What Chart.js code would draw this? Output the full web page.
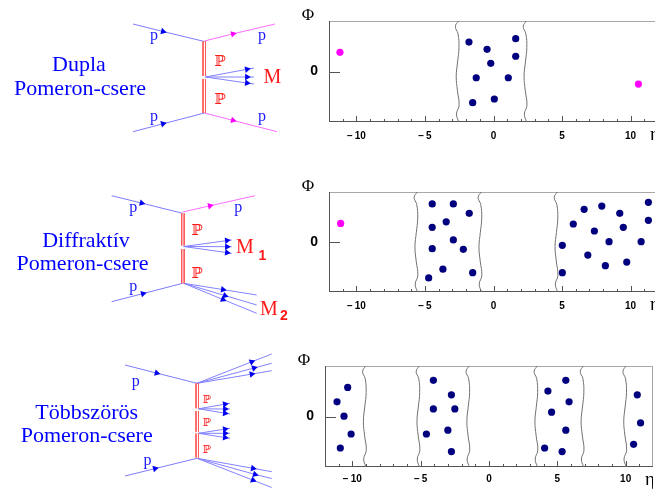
<!DOCTYPE html>
<html>
<head>
<meta charset="utf-8">
<script src="https://cdn.jsdelivr.net/npm/chart.js@4.4.1/dist/chart.umd.min.js"></script>
<style>
  html, body { margin: 0; padding: 0; background: #fff; }
  body { width: 655px; height: 492px; overflow: hidden; position: relative; }
  canvas { position: absolute; }
</style>
</head>
<body>
<canvas id="d1" width="300" height="160" style="left:0;top:0"></canvas>
<canvas id="d2" width="300" height="170" style="left:0;top:160px"></canvas>
<canvas id="d3" width="300" height="162" style="left:0;top:330px"></canvas>
<canvas id="p1" width="369" height="150" style="left:289px;top:0"></canvas>
<canvas id="p2" width="369" height="155" style="left:289px;top:165px"></canvas>
<canvas id="p3" width="368" height="162" style="left:285px;top:330px"></canvas>
<script>
// ---- eta-phi plots ----
var etaTicks = [-10, -5, 0, 5, 10];

// double pomeron exchange
var dpeCentral = [
  {x:-1.79, y:1.83}, {x:1.62, y:2.04}, {x:-0.47, y:1.38}, {x:1.62, y:0.95},
  {x:-0.20, y:0.51}, {x:-1.26, y:-0.39}, {x:1.08, y:-0.39}, {x:0.06, y:-1.71},
  {x:-1.52, y:-1.94}
];
var dpeProtons = [{x:-11.2, y:1.19}, {x:10.57, y:-0.78}];
var dpeGaps = [-2.65, 2.3];

// diffractive pomeron exchange
var ddLeft = [
  {x:-4.47, y:2.39}, {x:-2.93, y:2.39}, {x:-1.77, y:1.80}, {x:-4.47, y:0.92},
  {x:-3.45, y:1.27}, {x:-2.93, y:0.13}, {x:-4.47, y:-0.42}, {x:-2.20, y:-0.46},
  {x:-3.69, y:-1.71}, {x:-1.52, y:-1.93}, {x:-4.73, y:-2.26}
];
var ddRight = [
  {x:11.30, y:2.49}, {x:7.90, y:2.26}, {x:6.61, y:2.05}, {x:9.21, y:1.80},
  {x:5.82, y:1.13}, {x:11.30, y:1.36}, {x:9.47, y:0.92}, {x:7.36, y:0.69},
  {x:8.43, y:0.02}, {x:10.77, y:0.02}, {x:5.02, y:-0.21}, {x:6.88, y:-0.82},
  {x:9.72, y:-1.26}, {x:8.16, y:-1.49}, {x:5.02, y:-1.93}
];
var ddProtons = [{x:-11.15, y:1.17}];
var ddGaps = [-5.66, -0.99, 4.56];

// multiple pomeron exchange
var mpeParticles = [
  {x:-10.34, y:1.81}, {x:-11.12, y:0.91}, {x:-10.61, y:0.02}, {x:-10.09, y:-1.09}, {x:-10.88, y:-1.96},
  {x:-4.07, y:2.25}, {x:-2.75, y:1.35}, {x:-4.07, y:0.47}, {x:-2.50, y:0.47},
  {x:-3.01, y:-0.85}, {x:-4.58, y:-1.09}, {x:-2.75, y:-2.18},
  {x:5.62, y:2.25}, {x:4.31, y:1.58}, {x:5.86, y:0.91}, {x:4.58, y:0.27},
  {x:5.62, y:-0.85}, {x:4.07, y:-1.96}, {x:5.35, y:-2.18},
  {x:10.85, y:1.35}, {x:11.09, y:-0.40}, {x:10.58, y:-1.73}
];
var mpeGaps = [-9.12, -5.20, -1.55, 3.43, 6.81, 9.93];

// shape of the wavy gap borders (phi, eta shift)
var wavePhi   = [3.15, 2.8, 2.35, 1.5, 0.6, -0.3, -1.2, -2.1, -2.65, -3.15];
var waveShift = [0.10, -0.13, 0.06, 0.13, 0.03, -0.07, 0.02, 0.14, -0.05, 0.12];

// ---- Feynman diagrams: [x1,y1, arrowX,arrowY, x2,y2, kind] ----
var d1Lines = [
  [133,24, 163,31.5, 204.5,41.5, 'p'],
  [204.5,41, 233,33.9, 275,24, 'm'],
  [133,131.7, 163,123.8, 204.5,113, 'p'],
  [204.5,113, 233,120.4, 277,131.7, 'm'],
  [205.5,77, 247,69.3, 254,68, 'j'],
  [205.5,77, 247,77, 254,77, 'j'],
  [205.5,77, 247,83, 254,84, 'j']
];
var d1Pomeron = [[203,41.5,203,76], [205.5,41.5,205.5,76], [203,79,203,113], [205.5,79,205.5,113]];
var d1Text = [
  ['Dupla', 79, 70.7, 'title'], ['Pomeron-csere', 80, 95, 'title'],
  ['p', 154, 40, 'p'], ['p', 262, 40, 'p'], ['p', 154, 120.7, 'p'], ['p', 262, 120.7, 'p'],
  ['\u2119', 220, 65.7, 'P'], ['\u2119', 220, 104, 'P'],
  ['M', 272.5, 83.3, 'M']
];

var d2Lines = [
  [111.7,195.7, 141.7,203.1, 182.7,213.3, 'p'],
  [182.7,212, 210,205.8, 255,195.7, 'm'],
  [111.7,301.7, 143,293.6, 182.7,283.3, 'p'],
  [183.7,246.5, 227,240.6, 231.7,240, 'j'],
  [183.7,246.5, 227,246.7, 231.7,246.7, 'j'],
  [183.7,246.5, 227,252.6, 231.7,253.3, 'j'],
  [183.7,283.3, 223,289.6, 256.7,295, 'j'],
  [183.7,283.3, 225,295.6, 256.7,305, 'j'],
  [183.7,283.3, 223,299.5, 256.7,313.3, 'j']
];
var d2Pomeron = [[181.7,213.3,181.7,245.5], [184.2,213.3,184.2,245.5], [181.7,249,181.7,283.3], [184.2,249,184.2,283.3]];
var d2Text = [
  ['Diffrakt\u00edv', 86, 246.7, 'title'], ['Pomeron-csere', 82.5, 270, 'title'],
  ['p', 133.3, 212.3, 'p'], ['p', 238.3, 212.3, 'p'], ['p', 133.3, 291, 'p'],
  ['\u2119', 197, 235, 'P'], ['\u2119', 197, 278.3, 'P'],
  ['M', 245, 253.3, 'M'], ['1', 262.5, 260, 'sub'],
  ['M', 269, 315, 'M'], ['2', 284, 320, 'sub']
];

var d3Lines = [
  [125,365, 156.7,373.1, 197,383.3, 'p'],
  [125,476, 155,468.6, 197,458.3, 'p'],
  [197,383.3, 251.7,361.8, 271.7,354, 'j'],
  [197,383.3, 254,368.0, 271.7,363.3, 'j'],
  [197,383.3, 251.7,374.1, 271.7,370.7, 'j'],
  [198.5,408.8, 225,404.2, 230,403.3, 'j'],
  [198.5,408.8, 225,409, 230,409, 'j'],
  [198.5,408.8, 225,413.2, 230,414, 'j'],
  [198.5,433.3, 225,429.1, 230,428.3, 'j'],
  [198.5,433.3, 225,433.3, 230,433.3, 'j'],
  [198.5,433.3, 225,437.5, 230,438.3, 'j'],
  [197,458.3, 253,468.3, 271.7,471.7, 'j'],
  [197,458.3, 255,474.4, 271.7,478.5, 'j'],
  [197,458.3, 253,480.2, 271.7,487.5, 'j']
];
var d3Pomeron = [[196,383.3,196,408.3], [198.5,383.3,198.5,408.3], [196,411,196,431.7], [198.5,411,198.5,431.7],
                 [196,433.5,196,457.5], [198.5,433.5,198.5,457.5]];
var d3Text = [
  ['T\u00f6bbsz\u00f6r\u00f6s', 86.7, 419.3, 'title'], ['Pomeron-csere', 86.7, 441.7, 'title'],
  ['p', 135.8, 385.7, 'p'], ['p', 147.5, 465, 'p'],
  ['\u2119', 207, 402.7, 'Ps'], ['\u2119', 207, 426, 'Ps'], ['\u2119', 207, 452.7, 'Ps']
];

var textStyle = {
  title: ['22px "Liberation Serif"', '#0000ff'],
  p:     ['16px "Liberation Serif"', '#1a1aff'],
  P:     ['15px "DejaVu Serif"', '#ff1a1a'],
  Ps:    ['11px "DejaVu Serif"', '#ff1a1a'],
  M:     ['20px "Liberation Serif"', '#ff1a1a'],
  sub:   ['bold 14px "Liberation Sans"', '#ff1a1a']
};
var lineColor  = { p: '#7c7cff', m: '#ff6cff', j: '#8282ff' };
var arrowColor = { p: '#0000ee', m: '#ff00ff', j: '#0000ee' };

var diagramText = {
  id: 'diagramText',
  afterDatasetsDraw: function(chart, args, opts) {
    var ctx = chart.ctx, x = chart.scales.x, y = chart.scales.y;
    ctx.save();
    ctx.textAlign = 'center';
    ctx.textBaseline = 'alphabetic';
    opts.items.forEach(function(t) {
      ctx.font = textStyle[t[3]][0];
      ctx.fillStyle = textStyle[t[3]][1];
      ctx.fillText(t[0], x.getPixelForValue(t[1]), y.getPixelForValue(t[2]));
    });
    ctx.restore();
  }
};

function makeDiagram(id, top, height, lines, pomeron, text) {
  var datasets = [];
  pomeron.forEach(function(s) {
    datasets.push({
      data: [{x:s[0], y:s[1]}, {x:s[2], y:s[3]}],
      showLine: true, borderColor: '#ff5a5a', borderWidth: 1, pointRadius: 0
    });
  });
  lines.forEach(function(l) {
    var rot = Math.atan2(l[5] - l[1], l[4] - l[0]) * 180 / Math.PI + 90;
    datasets.push({
      data: [{x:l[0], y:l[1]}, {x:l[2], y:l[3]}, {x:l[4], y:l[5]}],
      showLine: true, borderColor: lineColor[l[6]], borderWidth: 1,
      pointStyle: 'triangle', pointRadius: [0, 3.8, 0], pointRotation: [0, rot, 0],
      pointBackgroundColor: arrowColor[l[6]], pointBorderWidth: 0
    });
  });
  new Chart(document.getElementById(id), {
    type: 'scatter',
    data: { datasets: datasets },
    options: {
      responsive: false, animation: false, events: [],
      layout: { padding: 0, autoPadding: false },
      plugins: { legend: { display: false }, tooltip: { enabled: false }, diagramText: { items: text } },
      scales: {
        x: { type: 'linear', display: false, min: 0, max: 300 },
        y: { type: 'linear', display: false, min: top, max: top + height, reverse: true }
      }
    },
    plugins: [diagramText]
  });
}

makeDiagram('d1', 0, 160, d1Lines, d1Pomeron, d1Text);
makeDiagram('d2', 160, 170, d2Lines, d2Pomeron, d2Text);
makeDiagram('d3', 330, 162, d3Lines, d3Pomeron, d3Text);

// ---- eta-phi panels ----
var frame = {
  id: 'frame',
  beforeDatasetsDraw: function(chart) {
    var ctx = chart.ctx, a = chart.chartArea, x = chart.scales.x, y = chart.scales.y;
    ctx.save();
    ctx.lineWidth = 1;
    ctx.strokeStyle = '#a8a8a8';
    ctx.beginPath();
    ctx.moveTo(a.left, a.top + 0.5); ctx.lineTo(a.right, a.top + 0.5);
    ctx.moveTo(a.right - 0.5, a.top); ctx.lineTo(a.right - 0.5, a.bottom);
    ctx.stroke();
    ctx.strokeStyle = '#555';
    ctx.beginPath();
    ctx.moveTo(a.left + 0.5, a.top); ctx.lineTo(a.left + 0.5, a.bottom - 0.5); ctx.lineTo(a.right, a.bottom - 0.5);
    for (var v = Math.ceil(x.min); v <= x.max; v++) {
      var px = Math.round(x.getPixelForValue(v)) + 0.5;
      ctx.moveTo(px, a.bottom); ctx.lineTo(px, a.bottom - (v % 5 === 0 ? 6 : 3));
    }
    var py = Math.round(y.getPixelForValue(0)) + 0.5;
    ctx.moveTo(a.left, py); ctx.lineTo(a.left + 11, py);
    ctx.stroke();
    ctx.restore();
  },
  afterDraw: function(chart) {
    var ctx = chart.ctx, a = chart.chartArea;
    ctx.save();
    ctx.fillStyle = '#000';
    ctx.textAlign = 'center';
    ctx.textBaseline = 'middle';
    ctx.font = '17px "Liberation Serif"';
    ctx.fillText('\u03a6', a.left - 21, a.top - 5);
    ctx.font = '19px "Liberation Serif"';
    ctx.fillText('\u03b7', a.right - 3, a.bottom + 13);
    ctx.restore();
  }
};

function gapLine(eta) {
  return {
    data: wavePhi.map(function(p, i) { return {x: eta + waveShift[i], y: p}; }),
    showLine: true, borderColor: '#707070', borderWidth: 1, pointRadius: 0, tension: 0.45
  };
}
function dots(data, color) {
  return { data: data, pointRadius: 3.6, pointBackgroundColor: color, pointBorderWidth: 0, showLine: false };
}

function makePanel(id, padTop, axisH, tickPad, datasets) {
  new Chart(document.getElementById(id), {
    type: 'scatter',
    data: { datasets: datasets },
    options: {
      responsive: false, animation: false, events: [],
      layout: { padding: { top: padTop, left: 0, right: 0, bottom: 0 }, autoPadding: false },
      plugins: { legend: { display: false }, tooltip: { enabled: false } },
      scales: {
        x: {
          type: 'linear', min: -12, max: 12,
          grid: { display: false, drawTicks: false, tickLength: 0 }, border: { display: false },
          afterBuildTicks: function(s) { s.ticks = etaTicks.map(function(v) { return {value: v}; }); },
          afterFit: function(s) { s.height = axisH; },
          ticks: {
            autoSkip: false, maxRotation: 0, padding: tickPad, color: '#000',
            font: { family: 'Liberation Sans', size: 10, weight: 'bold' },
            callback: function(v) { return v < 0 ? '\u2212\u2009' + Math.abs(v) : String(v); }
          }
        },
        y: {
          type: 'linear', min: -Math.PI, max: Math.PI,
          grid: { display: false, drawTicks: false, tickLength: 0 }, border: { display: false },
          afterBuildTicks: function(s) { s.ticks = [{value: 0}]; },
          afterFit: function(s) { s.width = 40; },
          ticks: { padding: 11, color: '#000', font: { family: 'Liberation Sans', size: 14, weight: 'bold' } }
        }
      }
    },
    plugins: [frame]
  });
}

makePanel('p1', 21, 28, 8,
  dpeGaps.map(gapLine).concat([dots(dpeCentral, '#00007e'), dots(dpeProtons, '#ff00ff')]));
makePanel('p2', 27, 28, 8,
  ddGaps.map(gapLine).concat([dots(ddLeft, '#00007e'), dots(ddRight, '#00007e'), dots(ddProtons, '#ff00ff')]));
makePanel('p3', 36, 25, 6,
  mpeGaps.map(gapLine).concat([dots(mpeParticles, '#00007e')]));
</script>
</body>
</html>
